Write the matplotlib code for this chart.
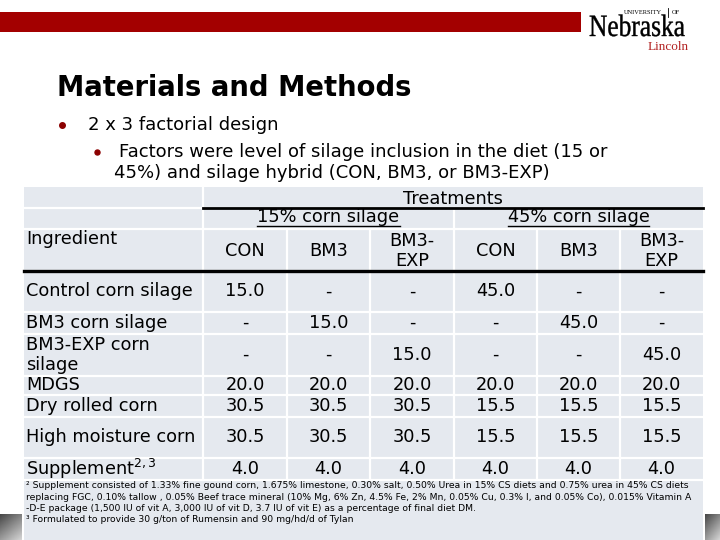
import numpy as np
import matplotlib
matplotlib.use("Agg")
import matplotlib.pyplot as plt
from matplotlib.patches import Rectangle, PathPatch
from matplotlib.textpath import TextPath
from matplotlib.font_manager import FontProperties
from matplotlib.transforms import Affine2D

# ---- table content ----
title = "Materials and Methods"
bullet_1 = "2 x 3 factorial design"
bullet_2 = ["Factors were level of silage inclusion in the diet (15 or",
            "45%) and silage hybrid (CON, BM3, or BM3-EXP)"]

silage_levels = ["15% corn silage", "45% corn silage"]
treatments = ["CON", "BM3", "BM3-\nEXP", "CON", "BM3", "BM3-\nEXP"]
ingredients = ["Control corn silage", "BM3 corn silage", "BM3-EXP corn\nsilage",
               "MDGS", "Dry rolled corn", "High moisture corn", "Supplement$^{2,3}$"]

control_cs = [15.0, None, None, 45.0, None, None]
bm3_cs = [None, 15.0, None, None, 45.0, None]
bm3exp_cs = [None, None, 15.0, None, None, 45.0]
mdgs = [20.0, 20.0, 20.0, 20.0, 20.0, 20.0]
dry_rolled = [30.5, 30.5, 30.5, 15.5, 15.5, 15.5]
high_moisture = [30.5, 30.5, 30.5, 15.5, 15.5, 15.5]
supplement = [4.0, 4.0, 4.0, 4.0, 4.0, 4.0]
rows = [control_cs, bm3_cs, bm3exp_cs, mdgs, dry_rolled, high_moisture, supplement]

footnotes = [
    "\u00b2 Supplement consisted of 1.33% fine gound corn, 1.675% limestone, 0.30% salt, "
    "0.50% Urea in 15% CS diets and 0.75% urea in 45% CS diets",
    "replacing FGC, 0.10% tallow , 0.05% Beef trace mineral (10% Mg, 6% Zn, 4.5% Fe, 2% Mn, "
    "0.05% Cu, 0.3% I, and 0.05% Co), 0.015% Vitamin A",
    "-D-E package (1,500 IU of vit A, 3,000 IU of vit D, 3.7 IU of vit E) as a percentage "
    "of final diet DM.",
    "\u00b3 Formulated to provide 30 g/ton of Rumensin and 90 mg/hd/d of Tylan",
]

# ---- layout (pixel units) ----
col_edges = [24, 203, 287, 370, 454, 537, 620, 703]
row_edges = [187, 208, 229, 271, 312, 334, 376, 395, 417, 458, 480, 540]
cell_bg = "#e5e9ef"
red = "#a30000"
fs = 12.8

fig = plt.figure(figsize=(7.2, 5.4), dpi=100)
ax = fig.add_axes([0, 0, 1, 1])
ax.set_xlim(0, 720)
ax.set_ylim(540, 0)
ax.axis("off")

# header bar and logo
ax.add_patch(Rectangle((0, 12), 581, 20, color=red, lw=0))
serif = FontProperties(family="Liberation Serif")
neb = TextPath((0, 0), "Nebraska", size=31, prop=serif)
tr = Affine2D().scale(0.82, -1.0).translate(589, 36) + ax.transData
ax.add_patch(PathPatch(neb, transform=tr, facecolor="black", edgecolor="black", lw=0.3))
ax.text(643, 12, "UNIVERSITY", family="Liberation Serif", fontsize=4.6, ha="center",
        va="center")
ax.plot([668, 668], [8, 17], color="black", lw=0.6)
ax.text(676, 12, "OF", family="Liberation Serif", fontsize=4.6, ha="center", va="center")
ax.text(668, 47, "Lincoln", family="Liberation Serif", fontsize=9.5, ha="center",
        va="center", color="#b22222")

# title and bullets
ax.text(57, 88, title, fontsize=19.8, fontweight="bold", va="center")
ax.plot(62, 125, "o", ms=4, color="#8b0000")
ax.text(88, 125, bullet_1, fontsize=13, va="center")
ax.plot(97, 152, "o", ms=3.6, color="#8b0000")
ax.text(119, 152, bullet_2[0], fontsize=13, va="center")
ax.text(114, 173, bullet_2[1], fontsize=13, va="center")

# bottom gradient boxes
grad = np.linspace(0, 1, 40)[:, None] * 0.6 + np.linspace(0, 1, 20)[None, :] * 0.4
ax.imshow(grad, cmap="gray", vmin=-0.5, vmax=1.3, extent=(0, 22, 540, 514),
          aspect="auto", zorder=0)
ax.imshow(grad, cmap="gray", vmin=-0.5, vmax=1.3, extent=(705, 720, 540, 514),
          aspect="auto", zorder=0)

# table background
x0, x1 = col_edges[0], col_edges[-1]
ax.add_patch(Rectangle((x0, row_edges[0]), x1 - x0, row_edges[-1] - row_edges[0],
                       color=cell_bg, lw=0, zorder=1))
wl = dict(color="white", lw=1.6, zorder=2)
for y in row_edges[1:-1]:
    ax.plot([x0, x1], [y, y], **wl)
ax.plot([col_edges[1]] * 2, [row_edges[0], row_edges[10]], **wl)
ax.plot([col_edges[4]] * 2, [row_edges[1], row_edges[10]], **wl)
for c in (2, 3, 5, 6):
    ax.plot([col_edges[c]] * 2, [row_edges[2], row_edges[10]], **wl)
ax.plot([col_edges[1], x1], [row_edges[1]] * 2, color="black", lw=2, zorder=3)
ax.plot([x0, x1], [row_edges[3]] * 2, color="black", lw=2.4, zorder=3)

def mid(a, b):
    return (a + b) / 2

# header text
ax.text(mid(col_edges[1], x1), mid(row_edges[0], row_edges[1]) + 1, "Treatments",
        fontsize=fs, ha="center", va="center", zorder=4)
fig.canvas.draw()
rend = fig.canvas.get_renderer()
inv = ax.transData.inverted()
for i, lvl in enumerate(silage_levels):
    cx = mid(col_edges[1 + 3 * i], col_edges[4 + 3 * i])
    t = ax.text(cx, mid(row_edges[1], row_edges[2]) - 1, lvl, fontsize=fs,
                ha="center", va="center", zorder=4)
    bb = t.get_window_extent(rend)
    (lx, _), (rx, _) = inv.transform([(bb.x0, bb.y0), (bb.x1, bb.y0)])
    ax.plot([lx, rx], [row_edges[2] - 3] * 2, color="black", lw=1, zorder=4)
ax.text(26, 239, "Ingredient", fontsize=fs, va="center", zorder=4)
for j, trt in enumerate(treatments):
    ax.text(mid(col_edges[j + 1], col_edges[j + 2]), mid(row_edges[2], row_edges[3]) + 1,
            trt, fontsize=fs, ha="center", va="center", linespacing=1.15, zorder=4)

# body rows
for r, (name, vals) in enumerate(zip(ingredients, rows)):
    yc = mid(row_edges[3 + r], row_edges[4 + r])
    ax.text(26, yc, name, fontsize=fs, va="center", linespacing=1.15, zorder=4)
    for j, v in enumerate(vals):
        txt = "-" if v is None else f"{v:.1f}"
        ax.text(mid(col_edges[j + 1], col_edges[j + 2]), yc, txt, fontsize=fs,
                ha="center", va="center", zorder=4)

# footnotes
for k, line in enumerate(footnotes):
    ax.text(26, 486 + k * 11.3, line, fontsize=6.65, va="center", zorder=4)

fig.savefig("out.png", dpi=100)
